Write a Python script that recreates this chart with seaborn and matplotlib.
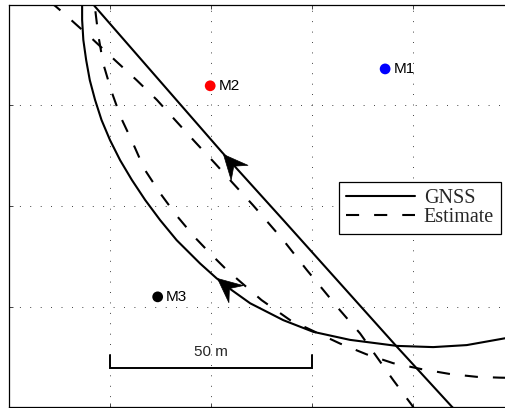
import numpy as np
import pandas as pd
import matplotlib
matplotlib.use("Agg")
import matplotlib.pyplot as plt
import seaborn as sns
from matplotlib.path import Path
from matplotlib.markers import MarkerStyle
from matplotlib.transforms import Affine2D
from matplotlib.lines import Line2D

# ---------------- data (metres) ----------------
# GNSS pass 1 (straight-ish branch, travelling up-left)
gnss1_x = [112.4, 109.6, 96.0, 67.9, 52.7, 21.3, 20.0]
gnss1_y = [-2.7, 0.1, 15.0, 46.5, 63.4, 99.6, 101.2]
# GNSS pass 2 (curved branch, travelling from right to top)
gnss2_x = [126.5, 122.8, 113.3, 105.0, 96.0, 84.4, 75.3, 67.9, 59.7, 55.1, 51.4,
           47.3, 41.5, 37.4, 33.7, 30.4, 27.5, 25.0, 22.9, 21.3, 20.0, 19.1,
           18.4, 18.1, 18.1, 18.2]
gnss2_y = [18.2, 17.1, 15.4, 14.9, 15.2, 16.7, 18.7, 21.6, 25.8, 29.1, 32.0,
           35.7, 41.5, 46.5, 51.5, 56.5, 61.4, 66.4, 71.4, 76.4, 81.3, 86.3,
           91.3, 96.3, 100.0, 101.2]
# Estimate pass 1
est1_x = [101.0, 99.7, 95.1, 91.0, 86.9, 81.9, 73.7, 67.9, 60.4, 55.4, 51.0, 46.0,
          41.1, 36.6, 31.6, 26.2, 20.9, 15.9, 13.6, 11.4, 10.1]
est1_y = [-1.5, 0.5, 6.7, 12.5, 18.3, 24.1, 34.1, 41.5, 50.2, 55.7, 60.6, 66.0,
          71.4, 76.4, 81.3, 86.3, 91.3, 95.8, 97.9, 99.8, 100.7]
# Estimate pass 2
est2_x = [126.5, 121.5, 115.8, 109.2, 102.2, 95.1, 88.5, 81.9, 69.6, 62.5, 53.9,
          49.8, 46.0, 41.5, 37.4, 33.5, 30.6, 27.7, 25.4, 23.3, 22.1, 21.5, 21.2,
          21.0]
est2_y = [7.2, 7.3, 7.5, 8.2, 9.4, 10.9, 13.1, 15.8, 21.6, 26.6, 34.1,
          38.2, 42.2, 47.6, 53.2, 59.2, 65.8, 72.0, 78.4, 85.5, 92.5, 97.5, 100.0,
          101.2]

# landmarks
mark_names = ["M1", "M2", "M3"]
mark_x = [93.1, 49.8, 36.8]
mark_y = [84.1, 79.9, 27.4]
mark_colors = {"M1": "#0000ff", "M2": "#ff0000", "M3": "#000000"}

# direction arrows on GNSS track (tip positions)
arrow_x = [53.0, 51.4]
arrow_y = [62.9, 32.0]
arrow_pass = [0, 1]

# scale bar
scale_x0 = 25.0
scale_len = 50.0
scale_y = 9.8
scale_tick = 3.1
scale_label = "50 m"

legend_labels = ["GNSS", "Estimate"]

# ---------------- build table ----------------
rows = []
for kind, unit, xs, ys in [("GNSS", "g1", gnss1_x, gnss1_y),
                           ("GNSS", "g2", gnss2_x, gnss2_y),
                           ("Estimate", "e1", est1_x, est1_y),
                           ("Estimate", "e2", est2_x, est2_y)]:
    for xv, yv in zip(xs, ys):
        rows.append({"kind": kind, "unit": unit, "x": xv, "y": yv})
df = pd.DataFrame(rows)
marks = pd.DataFrame({"name": mark_names, "x": mark_x, "y": mark_y})

# ---------------- figure ----------------
sns.set_style("white")
plt.rcParams["font.family"] = ["Liberation Sans", "DejaVu Sans"]

W, H = 505, 408
fig = plt.figure(figsize=(W / 100, H / 100), dpi=100)
ax = fig.add_axes([9 / W, 1 / H, (W - 9) / W, 402 / H])
ax.set_xlim(0, (W - 9) / 4.04)
ax.set_ylim(0, 100)

sns.lineplot(data=df, x="x", y="y", units="unit", style="kind",
             estimator=None, sort=False, color="black", linewidth=1.5,
             dashes={"GNSS": "", "Estimate": (6.3, 7.2)}, legend=False, ax=ax)
for ln in ax.lines:
    ln.set_solid_joinstyle("round")
    ln.set_dash_capstyle("butt")

sns.scatterplot(data=marks, x="x", y="y", hue="name", palette=mark_colors,
                s=60, linewidth=0, legend=False, ax=ax, zorder=5)
for n, xv, yv in zip(mark_names, mark_x, mark_y):
    ax.annotate(n, (xv, yv), xytext=(6, 0), textcoords="offset points",
                ha="left", va="center", fontsize=11, color="black")

# arrows
head = Path([(0, 0), (-25, 11.5), (-16, 0), (-25, -11.5), (0, 0)],
            [Path.MOVETO, Path.LINETO, Path.LINETO, Path.LINETO, Path.CLOSEPOLY])
paths = [(np.array(gnss1_x), np.array(gnss1_y)), (np.array(gnss2_x), np.array(gnss2_y))]
for tx, ty, p in zip(arrow_x, arrow_y, arrow_pass):
    px, py = paths[p]
    d = (px - tx) ** 2 + (py - ty) ** 2
    i = int(np.argmin(d))
    i0, i1 = max(i - 1, 0), min(i + 1, len(px) - 1)
    a = ax.transData.transform((px[i0], py[i0]))
    b = ax.transData.transform((px[i1], py[i1]))
    ang = np.degrees(np.arctan2(b[1] - a[1], b[0] - a[0]))
    ms = MarkerStyle(head, transform=Affine2D().rotate_deg(ang))
    ax.plot([tx], [ty], marker=ms, markersize=35, color="black",
            markeredgewidth=0.5, linestyle="none", zorder=6)

# scale bar
ax.plot([scale_x0, scale_x0, scale_x0 + scale_len, scale_x0 + scale_len],
        [scale_y + scale_tick, scale_y, scale_y, scale_y + scale_tick],
        color="black", linewidth=1.4, solid_joinstyle="miter")
ax.text(scale_x0 + scale_len / 2, scale_y + 3.0, scale_label, ha="center",
        va="baseline", fontsize=11)

# grid & ticks
ax.set_xticks([25, 50, 75, 100])
ax.set_yticks([25, 50, 75])
ax.grid(True, color="black", linewidth=0.6, linestyle=(0, (1, 11.5)))
ax.tick_params(direction="in", length=3, width=0.6, top=True, bottom=True,
               left=True, right=False, labelbottom=False, labelleft=False)
ax.set_xlabel("")
ax.set_ylabel("")
for s in ["left", "top", "bottom"]:
    ax.spines[s].set_color("black")
    ax.spines[s].set_linewidth(0.9)
ax.spines["right"].set_visible(False)

# legend
handles = [Line2D([], [], color="black", linewidth=1.5),
           Line2D([], [], color="black", linewidth=1.5, dashes=(6.3, 7.2))]
leg = ax.legend(handles, legend_labels, loc="upper left",
                bbox_to_anchor=(339 / W, 1 - 181.5 / H), bbox_transform=fig.transFigure,
                borderaxespad=0, borderpad=0.36, handlelength=3.4, handletextpad=0.45,
                labelspacing=0.0, fancybox=False, framealpha=1, edgecolor="black",
                prop={"family": "Liberation Serif", "size": 14.5})
leg.get_frame().set_linewidth(0.9)

fig.savefig("out.png", dpi=100)
